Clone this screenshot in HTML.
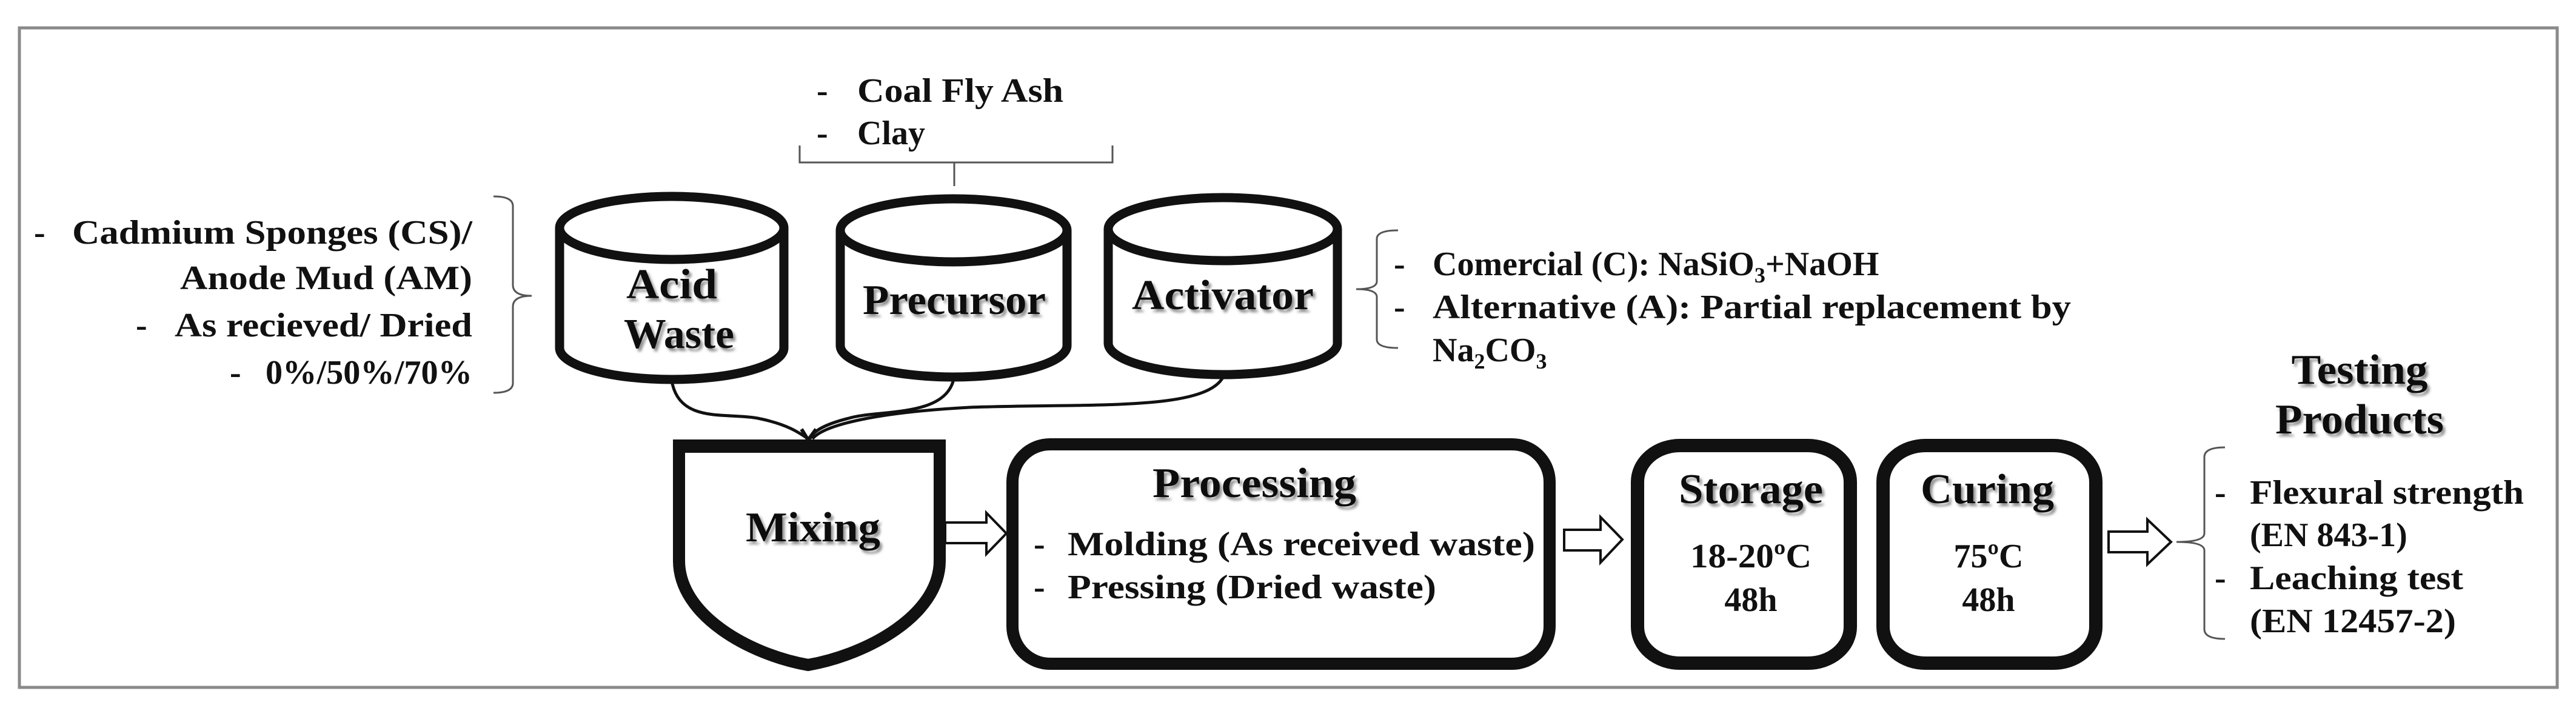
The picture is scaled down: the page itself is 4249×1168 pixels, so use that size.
<!DOCTYPE html>
<html><head><meta charset="utf-8"><style>
html,body{margin:0;padding:0;background:#fff;}
svg{display:block;}
text{font-family:"Liberation Serif",serif;fill:#111;}
.b{font-weight:bold;}
.h{font-weight:bold;font-size:70px;}
.t{font-size:56px;font-weight:bold;}
</style></head><body>
<svg width="4249" height="1168" viewBox="0 0 4249 1168" xmlns="http://www.w3.org/2000/svg">
<defs>
<filter id="sh" x="-10%" y="-10%" width="130%" height="140%">
<feDropShadow dx="4" dy="5" stdDeviation="2" flood-color="#777" flood-opacity="0.8"/>
</filter>
</defs>
<rect x="32" y="46" width="4186" height="1088" fill="#fff" stroke="#8a8a8a" stroke-width="5"/>

<text class="t" x="1347" y="168">-</text>
<text class="t" x="1414" y="168" textLength="340" lengthAdjust="spacingAndGlyphs">Coal Fly Ash</text>
<text class="t" x="1347" y="238">-</text>
<text class="t" x="1414" y="238">Clay</text>
<path d="M1319,240 V268 H1574 V307 M1574,268 H1835 V240" fill="none" stroke="#555" stroke-width="3"/>

<text class="t" x="56" y="402">-</text>
<text class="t" x="779" y="402" text-anchor="end" textLength="660" lengthAdjust="spacingAndGlyphs">Cadmium Sponges (CS)/</text>
<text class="t" x="779" y="477" text-anchor="end" textLength="482" lengthAdjust="spacingAndGlyphs">Anode Mud (AM)</text>
<text class="t" x="224" y="555">-</text>
<text class="t" x="779" y="555" text-anchor="end" textLength="491" lengthAdjust="spacingAndGlyphs">As recieved/ Dried</text>
<text class="t" x="379" y="633">-</text>
<text class="t" x="779" y="633" text-anchor="end" textLength="341" lengthAdjust="spacingAndGlyphs">0%/50%/70%</text>
<path d="M814,324 Q846,324 846,340 V470 Q846,488 877,488 Q846,488 846,506 V632 Q846,648 814,648" fill="none" stroke="#555" stroke-width="3"/>

<g fill="none" stroke="#111" stroke-width="5">
<path d="M1108,628 C1120,700 1200,680 1250,690 C1300,700 1320,715 1333,724"/>
<path d="M1574,620 C1565,690 1450,675 1400,690 C1360,700 1340,712 1336,724"/>
<path d="M2020,616 C2000,680 1800,665 1600,672 C1450,680 1360,700 1340,724"/>
</g>
<path d="M1322,708 L1333,726 L1346,708" fill="none" stroke="#111" stroke-width="6"/>

<g fill="#fff" stroke="#111" stroke-width="15">
<path d="M923,376 V574 A185,52 0 0 0 1293,574 V376"/>
<ellipse cx="1108" cy="376" rx="185" ry="52"/>
<path d="M1386,380 V570 A187,52 0 0 0 1760,570 V380"/>
<ellipse cx="1573" cy="380" rx="187" ry="52"/>
<path d="M1828,378 V566 A189,52 0 0 0 2206,566 V378"/>
<ellipse cx="2017" cy="378" rx="189" ry="52"/>
</g>
<g filter="url(#sh)">
<text class="h" x="1108" y="492" text-anchor="middle" textLength="150" lengthAdjust="spacingAndGlyphs">Acid</text>
<text class="h" x="1120" y="574" text-anchor="middle" textLength="182" lengthAdjust="spacingAndGlyphs">Waste</text>
<text class="h" x="1574" y="518" text-anchor="middle" textLength="302" lengthAdjust="spacingAndGlyphs">Precursor</text>
<text class="h" x="2017" y="510" text-anchor="middle" textLength="300" lengthAdjust="spacingAndGlyphs">Activator</text>
</g>

<path d="M2306,380 Q2271,380 2271,394 V464 Q2271,477 2237,477 Q2271,477 2271,490 V560 Q2271,574 2306,574" fill="none" stroke="#555" stroke-width="3"/>
<text class="t" x="2299" y="454">-</text>
<text class="t" x="2363" y="454">Comercial (C): NaSiO<tspan font-size="36" dy="12">3</tspan><tspan dy="-12">+NaOH</tspan></text>
<text class="t" x="2299" y="525">-</text>
<text class="t" x="2363" y="525" textLength="1053" lengthAdjust="spacingAndGlyphs">Alternative (A): Partial replacement  by</text>
<text class="t" x="2363" y="596">Na<tspan font-size="36" dy="12">2</tspan><tspan dy="-12">CO</tspan><tspan font-size="36" dy="12">3</tspan></text>

<path d="M1120,736 H1550 V925 C1550,1015 1430,1080 1333,1097 C1236,1080 1120,1015 1120,925 Z" fill="#fff" stroke="#111" stroke-width="20"/>
<rect x="1110" y="725" width="450" height="22" fill="#111"/>
<text class="h" x="1341" y="893" text-anchor="middle" filter="url(#sh)" textLength="222" lengthAdjust="spacingAndGlyphs">Mixing</text>

<g fill="#fff" stroke="#111" stroke-width="4">
<path d="M1559,862 H1627 V846 L1660,880 L1627,914 V896 H1559 Z"/>
<path d="M2580,874 H2640 V853 L2676,890 L2640,928 V908 H2580 Z"/>
<path d="M3478,877 H3542 V857 L3581,894 L3542,931 V911 H3478 Z"/>
</g>

<rect x="1670" y="733" width="886" height="362" rx="62" ry="62" fill="#fff" stroke="#111" stroke-width="20"/>
<text class="h" x="2069" y="820" text-anchor="middle" filter="url(#sh)" textLength="336" lengthAdjust="spacingAndGlyphs">Processing</text>
<text class="t" x="1705" y="916">-</text>
<text class="t" x="1761" y="916" textLength="771" lengthAdjust="spacingAndGlyphs">Molding (As received waste)</text>
<text class="t" x="1705" y="987">-</text>
<text class="t" x="1761" y="987" textLength="608" lengthAdjust="spacingAndGlyphs">Pressing (Dried waste)</text>

<rect x="2701" y="735" width="351" height="359" rx="70" ry="60" fill="#fff" stroke="#111" stroke-width="22"/>
<rect x="3106" y="735" width="351" height="359" rx="70" ry="60" fill="#fff" stroke="#111" stroke-width="22"/>
<text class="h" x="2888" y="830" text-anchor="middle" filter="url(#sh)" textLength="238" lengthAdjust="spacingAndGlyphs">Storage</text>
<text class="t" x="2888" y="936" text-anchor="middle" textLength="200" lengthAdjust="spacingAndGlyphs">18-20ºC</text>
<text class="t" x="2888" y="1008" text-anchor="middle">48h</text>
<text class="h" x="3278" y="830" text-anchor="middle" filter="url(#sh)" textLength="220" lengthAdjust="spacingAndGlyphs">Curing</text>
<text class="t" x="3280" y="936" text-anchor="middle">75ºC</text>
<text class="t" x="3280" y="1008" text-anchor="middle">48h</text>

<text class="h" x="3892" y="633" text-anchor="middle" filter="url(#sh)" textLength="225" lengthAdjust="spacingAndGlyphs">Testing</text>
<text class="h" x="3892" y="715" text-anchor="middle" filter="url(#sh)" textLength="278" lengthAdjust="spacingAndGlyphs">Products</text>
<path d="M3670,738 Q3636,738 3636,754 V880 Q3636,894 3590,894 Q3636,894 3636,908 V1038 Q3636,1054 3670,1054" fill="none" stroke="#555" stroke-width="3"/>
<text class="t" x="3653" y="831">-</text>
<text class="t" x="3711" y="831" textLength="452" lengthAdjust="spacingAndGlyphs">Flexural strength</text>
<text class="t" x="3711" y="901">(EN 843-1)</text>
<text class="t" x="3653" y="972">-</text>
<text class="t" x="3711" y="972" textLength="352" lengthAdjust="spacingAndGlyphs">Leaching test</text>
<text class="t" x="3711" y="1043" textLength="340" lengthAdjust="spacingAndGlyphs">(EN 12457-2)</text>
</svg>
</body></html>
